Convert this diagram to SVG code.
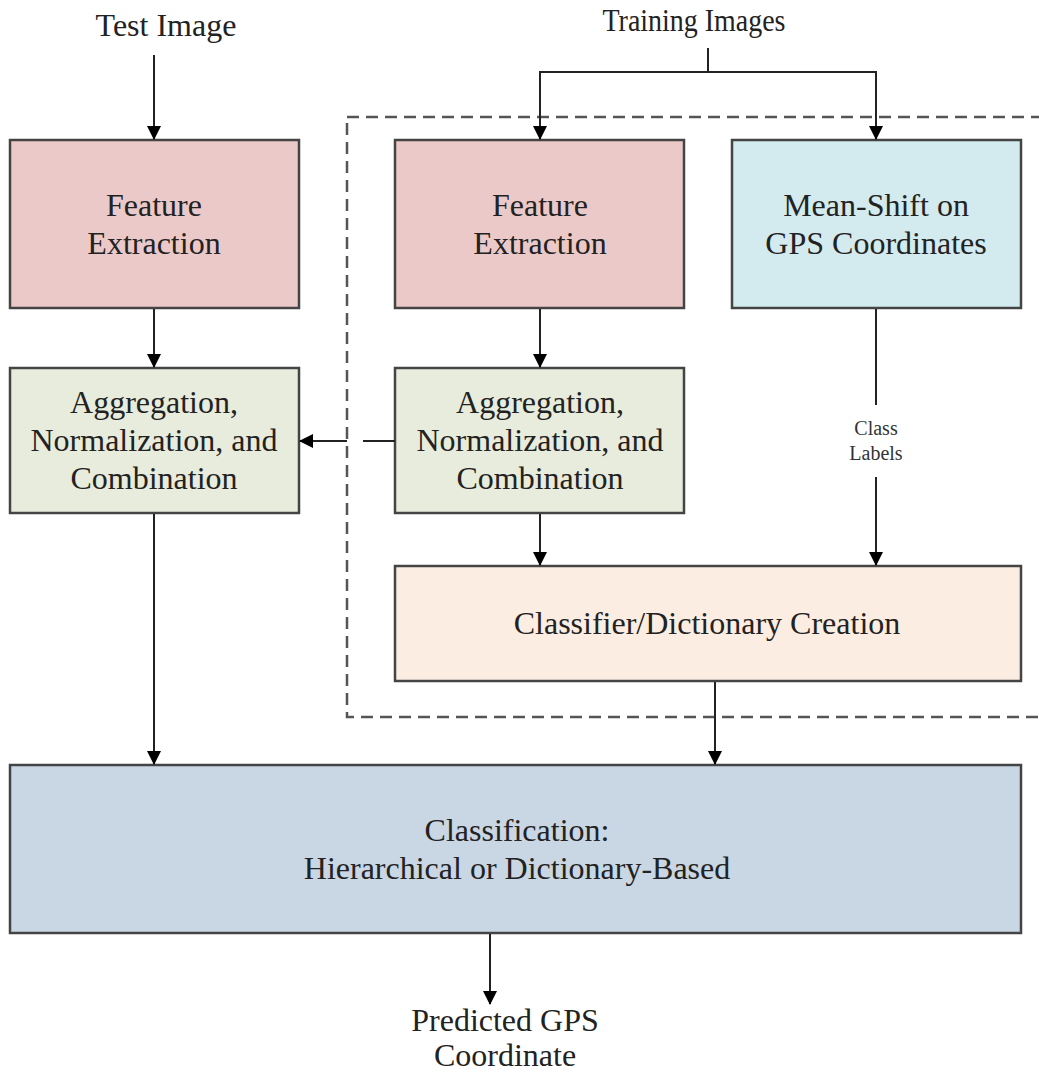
<svg xmlns="http://www.w3.org/2000/svg" width="1039" height="1072" viewBox="0 0 1039 1072">
<style>
.box{stroke:#444;stroke-width:2.5}
.t{font-family:"Liberation Serif","Times New Roman",serif;font-size:32px;fill:#222;text-anchor:middle}
.s{font-family:"Liberation Serif","Times New Roman",serif;font-size:20px;fill:#333;text-anchor:middle}
.c{stroke:#222;stroke-width:2;fill:none}
</style>
<defs>
<marker id="ah" markerUnits="userSpaceOnUse" markerWidth="14" markerHeight="16" refX="13" refY="7" orient="auto">
<path d="M0,0 L14,7 L0,14 Z" fill="#000"/>
</marker>
</defs>
<rect id="training-region" x="347" y="117" width="720" height="600" fill="none" stroke="#555" stroke-width="2.5" stroke-dasharray="12,7"/>
<g id="test-image"><text class="t" x="166" y="36">Test Image</text></g>
<g id="training-images"><text class="t" x="694" y="31" textLength="183" lengthAdjust="spacingAndGlyphs">Training Images</text></g>
<g id="fe-test"><rect class="box" x="10" y="140" width="289" height="168" fill="#ecc9c9"/><text class="t" x="154" y="216">Feature</text><text class="t" x="154" y="254">Extraction</text></g>
<g id="fe-train"><rect class="box" x="395" y="140" width="289" height="168" fill="#ecc9c9"/><text class="t" x="540" y="216">Feature</text><text class="t" x="540" y="254">Extraction</text></g>
<g id="mean-shift"><rect class="box" x="732" y="140" width="289" height="168" fill="#d3eaef"/><text class="t" x="876" y="216">Mean-Shift on</text><text class="t" x="876" y="254">GPS Coordinates</text></g>
<g id="agg-test"><rect class="box" x="10" y="368" width="289" height="145" fill="#e8ecdc"/><text class="t" x="154" y="413">Aggregation,</text><text class="t" x="154" y="451">Normalization, and</text><text class="t" x="154" y="489">Combination</text></g>
<g id="agg-train"><rect class="box" x="395" y="368" width="289" height="145" fill="#e8ecdc"/><text class="t" x="540" y="413">Aggregation,</text><text class="t" x="540" y="451">Normalization, and</text><text class="t" x="540" y="489">Combination</text></g>
<g id="classifier-creation"><rect class="box" x="395" y="566" width="626" height="115" fill="#fcede2"/><text class="t" x="707" y="634">Classifier/Dictionary Creation</text></g>
<g id="classification"><rect class="box" x="10" y="765" width="1011" height="168" fill="#c9d6e4"/><text class="t" x="517" y="841">Classification:</text><text class="t" x="517" y="879">Hierarchical or Dictionary-Based</text></g>
<g id="predicted"><text class="t" x="505" y="1031">Predicted GPS</text><text class="t" x="505" y="1066">Coordinate</text></g>
<g id="connectors">
<line class="c" x1="154" y1="55" x2="154" y2="139" marker-end="url(#ah)"/>
<polyline class="c" points="708,48 708,72 540,72 540,139" marker-end="url(#ah)"/>
<polyline class="c" points="708,72 876,72 876,139" marker-end="url(#ah)"/>
<line class="c" x1="154" y1="309" x2="154" y2="367" marker-end="url(#ah)"/>
<line class="c" x1="540" y1="309" x2="540" y2="367" marker-end="url(#ah)"/>
<line class="c" x1="395" y1="441" x2="363" y2="441"/>
<line class="c" x1="347" y1="441" x2="300" y2="441" marker-end="url(#ah)"/>
<line class="c" x1="876" y1="309" x2="876" y2="405"/>
<line class="c" x1="876" y1="477" x2="876" y2="565" marker-end="url(#ah)"/>
<line class="c" x1="540" y1="514" x2="540" y2="565" marker-end="url(#ah)"/>
<line class="c" x1="154" y1="514" x2="154" y2="764" marker-end="url(#ah)"/>
<line class="c" x1="715" y1="682" x2="715" y2="764" marker-end="url(#ah)"/>
<line class="c" x1="490" y1="934" x2="490" y2="1004" marker-end="url(#ah)"/>
<text class="s" x="876" y="435">Class</text>
<text class="s" x="876" y="460">Labels</text>
</g>
</svg>
